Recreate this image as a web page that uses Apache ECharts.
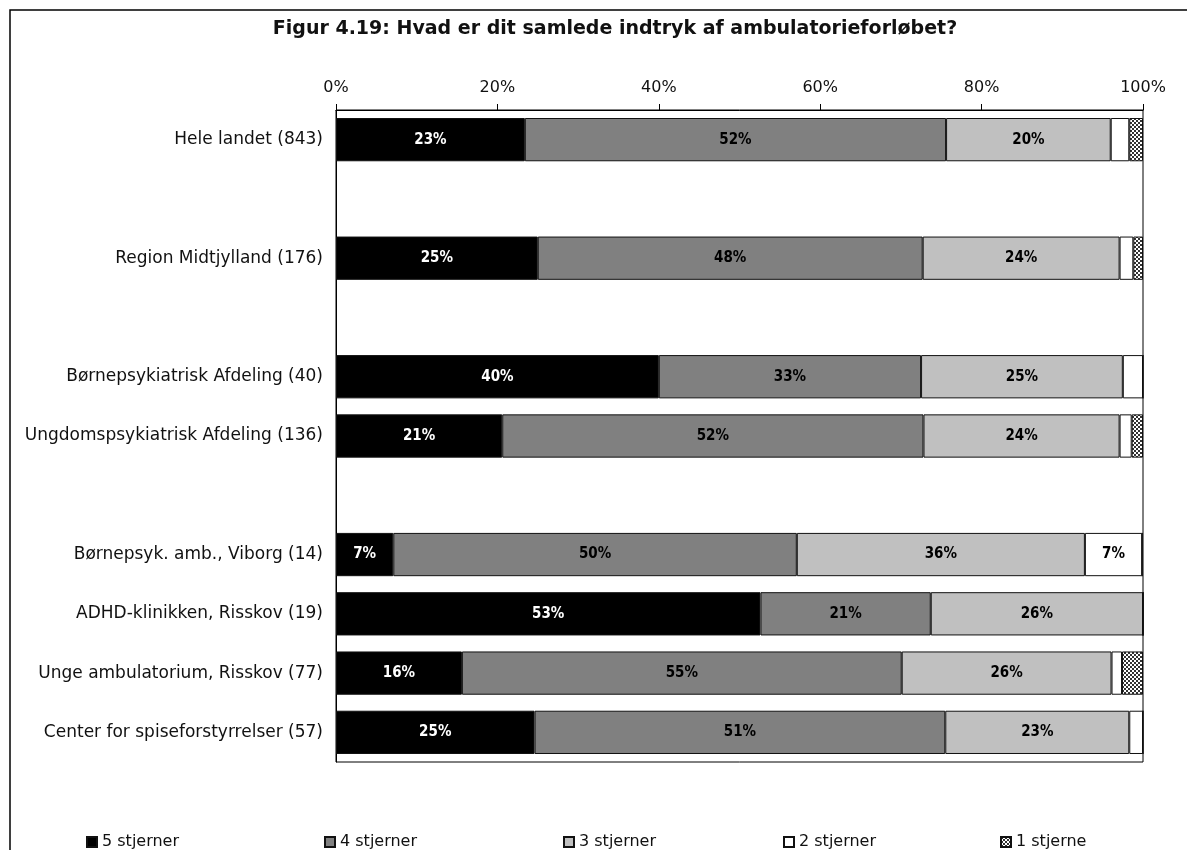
<!DOCTYPE html>
<html>
<head>
<meta charset="utf-8">
<script src="https://cdn.jsdelivr.net/npm/echarts@6/dist/echarts.min.js"></script>
<style>
html,body{margin:0;padding:0;background:#fff;}
#chart{width:1187px;height:850px;}
</style>
</head>
<body>
<div id="chart"></div>
<script>
// ---- data ----
const titleText = 'Figur 4.19: Hvad er dit samlede indtryk af ambulatorieforløbet?';
const categories = [
  'Hele landet (843)', ' ',
  'Region Midtjylland (176)', '  ',
  'Børnepsykiatrisk Afdeling (40)', 'Ungdomspsykiatrisk Afdeling (136)', '   ',
  'Børnepsyk. amb., Viborg (14)', 'ADHD-klinikken, Risskov (19)',
  'Unge ambulatorium, Risskov (77)', 'Center for spiseforstyrrelser (57)'
];
const seriesNames = ['5 stjerner', '4 stjerner', '3 stjerner', '2 stjerner', '1 stjerne'];
const stars5 = [23.4, null, 25.0, null, 40.0, 20.6, null, 7.1, 52.6, 15.6, 24.6];
const stars4 = [52.2, null, 47.7, null, 32.5, 52.2, null, 50.0, 21.1, 54.5, 50.9];
const stars3 = [20.4, null, 24.4, null, 25.0, 24.3, null, 35.7, 26.3, 26.0, 22.8];
const stars2 = [2.3, null, 1.7, null, 2.5, 1.5, null, 7.1, 0, 1.3, 1.7];
const stars1 = [1.7, null, 1.2, null, 0, 1.4, null, 0, 0, 2.6, 0];
const xTicks = [0, 20, 40, 60, 80, 100];

// ---- pattern for 1 stjerne ----
const pc = document.createElement('canvas');
pc.width = 4; pc.height = 4;
const pctx = pc.getContext('2d');
pctx.fillStyle = '#fff'; pctx.fillRect(0, 0, 4, 4);
pctx.fillStyle = '#333';
pctx.fillRect(0, 0, 2, 2); pctx.fillRect(2, 2, 2, 2);

const fills = ['#000000', '#808080', '#c0c0c0', '#ffffff', {image: pc, repeat: 'repeat'}];
const labelColors = ['#ffffff', '#000000', '#000000', '#000000', '#000000'];
const valuesList = [stars5, stars4, stars3, stars2, stars1];

const fontCat = '"DejaVu Sans", sans-serif';
const fontLbl = '"DejaVu Sans Condensed", "DejaVu Sans", sans-serif';

const series = seriesNames.map((name, i) => ({
  name: name,
  type: 'bar',
  stack: 'total',
  barWidth: '73%',
  data: valuesList[i],
  itemStyle: {color: fills[i], borderColor: '#111', borderWidth: 1},
  emphasis: {disabled: true},
  label: {
    show: true,
    position: 'inside',
    color: labelColors[i],
    fontWeight: 'bold',
    fontSize: 15,
    fontFamily: fontLbl,
    formatter: p => (p.value != null && p.value >= 5) ? Math.round(p.value) + '%' : ''
  }
}));

const legendLefts = [81, 319, 558, 778, 995];
const legends = seriesNames.map((name, i) => ({
  data: [name],
  left: legendLefts[i],
  top: 829,
  itemWidth: 10,
  itemHeight: 10,
  itemGap: 6,
  icon: 'rect',
  textStyle: {fontSize: 16, color: '#111', fontFamily: fontCat},
  selectedMode: false
}));

const chart = echarts.init(document.getElementById('chart'), null, {renderer: 'canvas'});
chart.setOption({
  animation: false,
  backgroundColor: '#fff',
  graphic: [
    {type: 'rect', shape: {x: 10, y: 10, width: 1300, height: 1000}, style: {fill: 'none', stroke: '#000', lineWidth: 1.5}, silent: true},
    {type: 'text', x: 615, y: 20, style: {text: titleText, textAlign: 'center', fontSize: 19, fontWeight: 'bold', fontFamily: '"DejaVu Sans", sans-serif', fill: '#111'}, silent: true}
  ],
  legend: legends,
  grid: {left: 336, right: 44, top: 110, bottom: 88, show: true, borderColor: '#000', borderWidth: 1, backgroundColor: 'transparent'},
  xAxis: {
    type: 'value',
    position: 'top',
    min: xTicks[0],
    max: xTicks[xTicks.length - 1],
    interval: xTicks[1] - xTicks[0],
    axisLine: {show: true, lineStyle: {color: '#000', width: 1}},
    axisTick: {show: true, inside: false, length: 6, lineStyle: {color: '#000'}},
    splitLine: {show: false},
    axisLabel: {formatter: '{value}%', fontSize: 16, color: '#111', fontFamily: fontCat, margin: 14}
  },
  yAxis: {
    type: 'category',
    inverse: true,
    data: categories,
    axisLine: {show: true, lineStyle: {color: '#000'}},
    axisTick: {show: false},
    axisLabel: {fontSize: 17, color: '#111', fontFamily: fontCat, margin: 13}
  },
  series: series
});
</script>
</body>
</html>
